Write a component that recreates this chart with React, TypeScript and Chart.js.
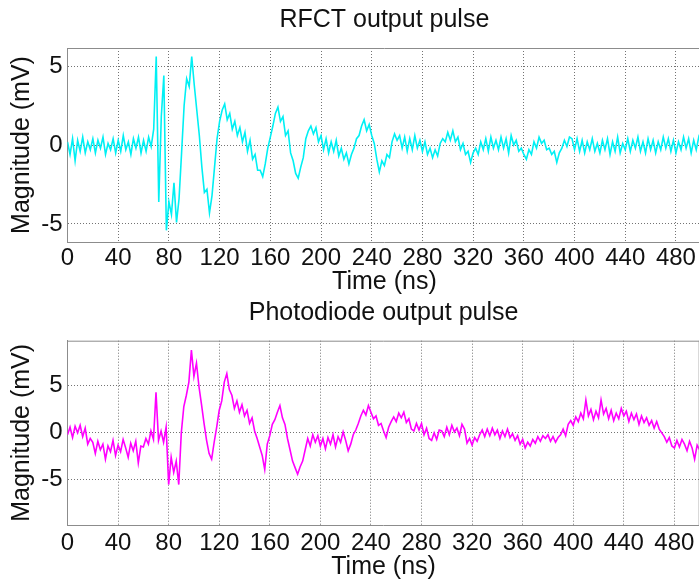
import React, { useEffect, useRef } from "react";
import { Chart, registerables } from "chart.js";

Chart.register(...registerables);

// ---------- data ----------
const TIME_STEP_NS = 2;
const X_TICKS = [0, 40, 80, 120, 160, 200, 240, 280, 320, 360, 400, 440, 480];
const Y_TICKS = [-5, 0, 5];
const X_MAX = 500;

const TOP_TITLE = "RFCT output pulse";
const BOTTOM_TITLE = "Photodiode output pulse";
const X_LABEL = "Time (ns)";
const Y_LABEL = "Magnitude (mV)";

// RFCT output, mV, one value every 2 ns from 0 to 500 ns
const RFCT_MV = [
  0.2, -0.6, 0.4, -1.0, 0.3, -0.4, 0.5, -0.5, 0.2, -0.3,
  0.4, -0.5, 0.3, -0.2, 0.5, -0.6, 0.1, -0.3, 0.4, -0.5,
  0.3, -0.4, 0.6, -0.3, 0.2, -0.6, 0.4, -0.2, 0.5, -0.5,
  0.3, -0.4, 0.5, -0.1, 1.0, 5.6, -3.6, 1.8, 4.4, -5.4,
  -3.6, -4.4, -2.4, -4.9, -3.4, -0.5, 2.5, 4.2, 3.7, 5.6,
  3.8, 2.2, 0.6, -1.4, -3.0, -2.8, -4.3, -3.2, -1.4, 0.4,
  1.5, 2.2, 2.6, 1.6, 2.0, 1.0, 1.5, 0.6, 1.1, 0.2,
  0.8, -0.4, 0.3, -0.9, -0.6, -1.6, -1.6, -2.0, -1.2, -0.2,
  0.5, 1.2, 2.0, 2.4, 1.5, 1.8, 0.6, 0.9, -0.5, -1.0,
  -1.8, -2.1, -1.4, -0.8, 0.4, 0.9, 1.2, 0.7, 1.1, 0.2,
  0.6, -0.3, 0.4, -0.5, 0.2, -0.4, 0.3, -0.7, -0.2, -0.9,
  -0.5, -1.2, -0.6, -0.2, 0.4, 0.6, 1.2, 1.6, 0.9, 1.3,
  0.6, 0.1, -0.9, -1.7, -1.0, -1.3, -0.6, -0.8, 0.2, 0.7,
  0.3, 0.6, -0.2, 0.5, -0.4, 0.4, -0.3, 0.6, -0.2, 0.3,
  -0.4, 0.2, -0.6, -0.2, -0.8, -0.3, -0.7, 0.1, 0.4, 0.2,
  0.8, 0.3, 0.9, 0.2, 0.5, -0.3, 0.1, -0.6, -0.4, -1.1,
  -0.5, -0.2, -0.6, 0.2, -0.3, 0.4, -0.4, 0.5, -0.2, 0.3,
  -0.3, 0.5, -0.2, 0.4, -0.5, 0.6, 0.0, 0.3, -0.4, -0.2,
  -0.6, -0.9, -0.3, -0.6, 0.2, -0.2, 0.5, 0.1, 0.3, -0.3,
  -0.2, -0.6, -0.4, -1.1, -0.5, -0.2, 0.3, -0.1, 0.5, 0.4,
  -0.3, 0.4, -0.4, 0.3, -0.5, 0.2, -0.3, 0.4, -0.4, 0.1,
  -0.5, 0.3, -0.3, 0.4, -0.6, 0.2, -0.4, 0.5, -0.5, 0.1,
  -0.3, 0.4, -0.4, 0.3, -0.2, 0.5, -0.4, 0.2, -0.5, 0.4,
  -0.3, 0.3, -0.5, 0.2, -0.3, 0.5, -0.2, 0.4, -0.4, 0.3,
  -0.5, 0.2, -0.3, 0.5, -0.2, 0.4, -0.5, 0.3, -0.3, 0.5,
  0.0,
];

// Photodiode output, mV, one value every 2 ns from 0 to 500 ns
const PHOTODIODE_MV = [
  -0.2, 0.6, -0.5, 0.7, 0.0, 0.8, -0.4, 0.5, -1.2, -0.6,
  -1.0, -2.2, -0.9, -1.8, -1.2, -2.8, -1.4, -2.0, -0.8, -2.4,
  -1.3, -2.0, -0.7, -1.6, -2.6, -1.1, -1.9, -0.9, -3.2, -1.4,
  -1.5, -0.6, -1.2, 0.2, -0.7, 4.3, -0.8, 0.2, -1.0, 0.6,
  -5.5, -2.6, -4.2, -3.0, -5.5, 0.0, 2.8, 4.0, 5.4, 8.8,
  6.0, 7.4, 4.9, 3.0, 1.0, -0.8, -2.2, -2.8, -1.0, 0.6,
  2.4, 3.4, 5.4, 6.3, 4.6, 4.0, 2.6, 3.4, 2.2, 3.0,
  1.8, 2.4, 1.0, 1.6, 0.2, -0.6, -1.5, -2.4, -3.9, -1.2,
  -0.3, 0.9, 1.4, 2.2, 2.9, 1.6, 0.9, -0.6, -1.8, -3.0,
  -3.7, -4.4, -3.6, -3.0, -1.8, -0.6, -1.4, -0.2, -1.0, -0.3,
  -1.4, -0.6, -1.7, -0.5, -1.2, -0.2, -1.5, -0.4, -1.0, 0.1,
  -0.8, -1.9, -1.2, -0.2, 0.3, 1.0, 1.8, 2.4, 1.9, 2.9,
  2.2, 1.5, 1.8, 0.8, 1.0, 0.2, -0.5, 0.6, 1.2, 1.7,
  1.2, 2.1, 1.6, 2.2, 1.1, 1.5, 0.4, 0.2, 1.0, 0.3,
  1.0, -0.2, 0.5, -0.6, -0.8, 0.0, -0.7, 0.3, 0.2, -0.4,
  0.6, -0.2, 0.8, 0.1, 0.5, -0.3, 0.9, 0.4, -1.1, -0.6,
  -1.3, -0.5, -0.9, -0.2, 0.3, -0.4, 0.4, -0.3, 0.5, -0.2,
  0.3, -0.6, 0.2, -0.4, 0.4, -0.5, -0.1, -0.8, -0.3, -1.2,
  -0.7, -1.6, -1.0, -1.4, -0.7, -1.1, -0.4, -0.9, -0.3, -0.6,
  -0.2, -0.9, -0.4, -1.0, -0.5, -0.2, 0.4, -0.3, 0.9, 1.3,
  0.8, 1.7, 1.2, 2.1, 1.5, 3.5, 1.8, 2.5, 1.4, 2.3,
  1.6, 3.5, 2.0, 2.6, 1.5, 2.4, 1.3, 2.1, 1.5, 2.6,
  1.8, 2.3, 1.2, 2.1, 1.4, 2.0, 0.9, 1.8, 1.1, 1.6,
  0.8, 1.3, 0.5, 1.2, 0.4, 0.0, -0.4, -1.0, -0.5, -1.4,
  -1.6, -0.8, -1.5, -0.7, -1.2, -1.9, -0.9, -1.6, -2.8, -1.3,
  -1.8,
];

// ---------- style ----------
const FONT = "'Liberation Sans', Arial, Helvetica, sans-serif";
const TEXT = "#111111";
const AXIS_COLOR = "#8c8c8c";
const GRID_COLOR = "rgba(90,90,90,0.85)";

const framePlugin = {
  id: "matlabFrame",
  afterDatasetsDraw(chart: any) {
    const { ctx, chartArea } = chart;
    const { left, top, right, bottom } = chartArea;
    ctx.save();
    ctx.strokeStyle = AXIS_COLOR;
    ctx.lineWidth = 1;
    ctx.beginPath();
    ctx.moveTo(left, top + 0.5);
    ctx.lineTo(right, top + 0.5);
    ctx.moveTo(right - 0.5, top);
    ctx.lineTo(right - 0.5, bottom);
    ctx.stroke();
    ctx.restore();
  },
};

type PanelProps = {
  title: string;
  values: number[];
  color: string;
  yLimit: number;
  width: number;
  height: number;
  top: number;
  titlePadTop: number;
  titlePadBottom: number;
  xAxisHeight: number;
  xTickPad: number;
  xTitlePadBottom: number;
};

function Panel(p: PanelProps) {
  const ref = useRef<HTMLCanvasElement | null>(null);

  useEffect(() => {
    if (!ref.current) return;
    const points = p.values.map((v, i) => ({ x: i * TIME_STEP_NS, y: v }));
    const chart = new Chart(ref.current, {
      type: "line",
      data: {
        datasets: [
          {
            data: points,
            borderColor: p.color,
            borderWidth: 1.6,
            pointRadius: 0,
            tension: 0,
            fill: false,
          },
        ],
      },
      options: {
        animation: false,
        responsive: false,
        maintainAspectRatio: false,
        events: [],
        layout: { padding: 0 },
        plugins: {
          legend: { display: false },
          tooltip: { enabled: false },
          title: {
            display: true,
            text: p.title,
            color: TEXT,
            fullSize: false,
            font: { family: FONT, size: 25, weight: "normal", lineHeight: 1 },
            padding: { top: p.titlePadTop, bottom: p.titlePadBottom },
          },
        },
        scales: {
          x: {
            type: "linear",
            min: 0,
            max: X_MAX,
            afterBuildTicks: (s: any) => {
              s.ticks = X_TICKS.map((v) => ({ value: v }));
            },
            afterFit: (s: any) => {
              s.height = p.xAxisHeight;
            },
            grid: { color: GRID_COLOR, lineWidth: 1, drawTicks: false },
            border: { display: true, color: AXIS_COLOR, width: 1, dash: [1, 2] },
            ticks: {
              color: TEXT,
              autoSkip: false,
              maxRotation: 0,
              padding: p.xTickPad,
              font: { family: FONT, size: 24, lineHeight: 0.9 },
            },
            title: {
              display: true,
              text: X_LABEL,
              color: TEXT,
              font: { family: FONT, size: 25, lineHeight: 1 },
              padding: { top: 0, bottom: p.xTitlePadBottom },
            },
          },
          y: {
            type: "linear",
            min: -p.yLimit,
            max: p.yLimit,
            afterBuildTicks: (s: any) => {
              s.ticks = Y_TICKS.map((v) => ({ value: v }));
            },
            afterFit: (s: any) => {
              s.width = 67.5;
            },
            grid: { color: GRID_COLOR, lineWidth: 1, drawTicks: false },
            border: { display: true, color: AXIS_COLOR, width: 1, dash: [1, 2] },
            ticks: {
              color: TEXT,
              padding: 5,
              font: { family: FONT, size: 24, lineHeight: 0.9 },
            },
            title: {
              display: true,
              text: Y_LABEL,
              color: TEXT,
              font: { family: FONT, size: 25, lineHeight: 1 },
              padding: { top: 9.5, bottom: 0 },
            },
          },
        },
      },
      plugins: [framePlugin],
    } as any);
    return () => chart.destroy();
  }, []);

  return (
    <canvas
      ref={ref}
      width={p.width}
      height={p.height}
      style={{
        position: "absolute",
        left: 0,
        top: p.top,
        width: p.width,
        height: p.height,
        display: "block",
      }}
    />
  );
}

export default function App() {
  return (
    <div
      style={{
        position: "fixed",
        left: 0,
        top: 0,
        width: 699,
        height: 581,
        overflow: "hidden",
        background: "#ffffff",
      }}
    >
      <Panel
        title={TOP_TITLE}
        values={RFCT_MV}
        color="#00f0f4"
        yLimit={6.14}
        width={702}
        height={298}
        top={0}
        titlePadTop={7.5}
        titlePadBottom={15.5}
        xAxisHeight={56}
        xTickPad={6}
        xTitlePadBottom={3.5}
      />
      <Panel
        title={BOTTOM_TITLE}
        values={PHOTODIODE_MV}
        color="#ff00ff"
        yLimit={9.8}
        width={702}
        height={285}
        top={298}
        titlePadTop={2.5}
        titlePadBottom={15.2}
        xAxisHeight={58}
        xTickPad={7.5}
        xTitlePadBottom={3.5}
      />
    </div>
  );
}
